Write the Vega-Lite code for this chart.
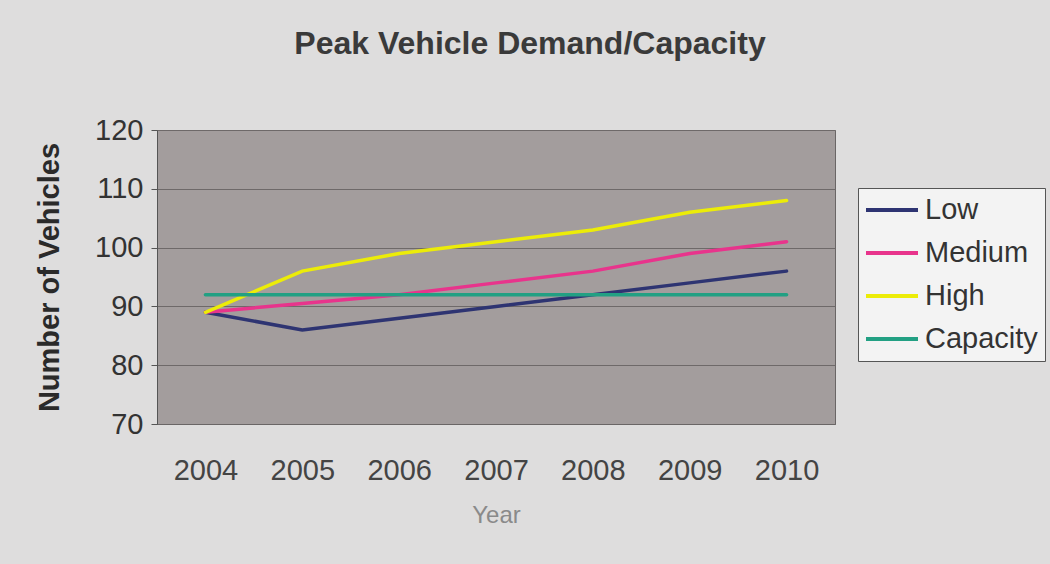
{
  "$schema": "https://vega.github.io/schema/vega-lite/v6.json",
  "width": 678,
  "height": 294,
  "padding": {"left": 35, "top": 28, "right": 14, "bottom": 51},
  "background": "#dedddd",
  "title": {
    "text": "Peak Vehicle Demand/Capacity",
    "font": "Liberation Sans",
    "fontSize": 32,
    "fontWeight": "bold",
    "color": "#3a3a3a",
    "anchor": "middle",
    "dx": 34,
    "offset": 55
  },
  "config": {
    "view": {"fill": "#a39d9d", "stroke": "#6a6666", "strokeWidth": 1},
    "font": "Liberation Sans"
  },
  "data": {
    "values": [
      {"year": "2004", "series": "Low", "value": 89},
      {"year": "2005", "series": "Low", "value": 86},
      {"year": "2006", "series": "Low", "value": 88},
      {"year": "2007", "series": "Low", "value": 90},
      {"year": "2008", "series": "Low", "value": 92},
      {"year": "2009", "series": "Low", "value": 94},
      {"year": "2010", "series": "Low", "value": 96},
      {"year": "2004", "series": "Medium", "value": 89},
      {"year": "2005", "series": "Medium", "value": 90.5},
      {"year": "2006", "series": "Medium", "value": 92},
      {"year": "2007", "series": "Medium", "value": 94},
      {"year": "2008", "series": "Medium", "value": 96},
      {"year": "2009", "series": "Medium", "value": 99},
      {"year": "2010", "series": "Medium", "value": 101},
      {"year": "2004", "series": "High", "value": 89},
      {"year": "2005", "series": "High", "value": 96},
      {"year": "2006", "series": "High", "value": 99},
      {"year": "2007", "series": "High", "value": 101},
      {"year": "2008", "series": "High", "value": 103},
      {"year": "2009", "series": "High", "value": 106},
      {"year": "2010", "series": "High", "value": 108},
      {"year": "2004", "series": "Capacity", "value": 92},
      {"year": "2005", "series": "Capacity", "value": 92},
      {"year": "2006", "series": "Capacity", "value": 92},
      {"year": "2007", "series": "Capacity", "value": 92},
      {"year": "2008", "series": "Capacity", "value": 92},
      {"year": "2009", "series": "Capacity", "value": 92},
      {"year": "2010", "series": "Capacity", "value": 92}
    ]
  },
  "mark": {"type": "line", "strokeWidth": 3.5, "strokeCap": "round"},
  "encoding": {
    "x": {
      "field": "year",
      "type": "ordinal",
      "scale": {"type": "point", "padding": 0.5},
      "axis": {
        "title": "Year",
        "titleFont": "Liberation Sans",
        "titleFontSize": 24,
        "titleFontWeight": "normal",
        "titleColor": "#8a8a8a",
        "titlePadding": 18,
        "labelAngle": 0,
        "labelFontSize": 29,
        "labelColor": "#444444",
        "labelPadding": 32,
        "tickColor": "#6a6666",
        "tickSize": 0,
        "domainColor": "#6a6666",
        "grid": false
      }
    },
    "y": {
      "field": "value",
      "type": "quantitative",
      "scale": {"domain": [70, 120], "nice": false, "zero": false},
      "axis": {
        "title": "Number of Vehicles",
        "titleFont": "Liberation Sans",
        "titleFontSize": 29,
        "titleFontWeight": "bold",
        "titleColor": "#2a2a2a",
        "titlePadding": 30,
        "values": [70, 80, 90, 100, 110, 120],
        "labelFontSize": 29,
        "labelColor": "#333333",
        "labelPadding": 8,
        "tickColor": "#555555",
        "tickSize": 6,
        "domainColor": "#555555",
        "grid": true,
        "gridColor": "#6e6969",
        "gridWidth": 1
      }
    },
    "color": {
      "field": "series",
      "type": "nominal",
      "sort": ["Low", "Medium", "High", "Capacity"],
      "scale": {
        "domain": ["Low", "Medium", "High", "Capacity"],
        "range": ["#2e3472", "#e8348c", "#ecec08", "#22a083"]
      },
      "legend": {
        "title": null,
        "orient": "none",
        "legendX": 701,
        "legendY": 58,
        "symbolType": "M-2,0H2",
        "symbolSize": 676,
        "symbolStrokeWidth": 4,
        "symbolOffset": 12,
        "labelFontSize": 29,
        "labelColor": "#333333",
        "labelFont": "Liberation Sans",
        "rowPadding": 13,
        "labelOffset": 18,
        "padding": 7,
        "fillColor": "#f3f3f3",
        "strokeColor": "#555555"
      }
    }
  }
}
